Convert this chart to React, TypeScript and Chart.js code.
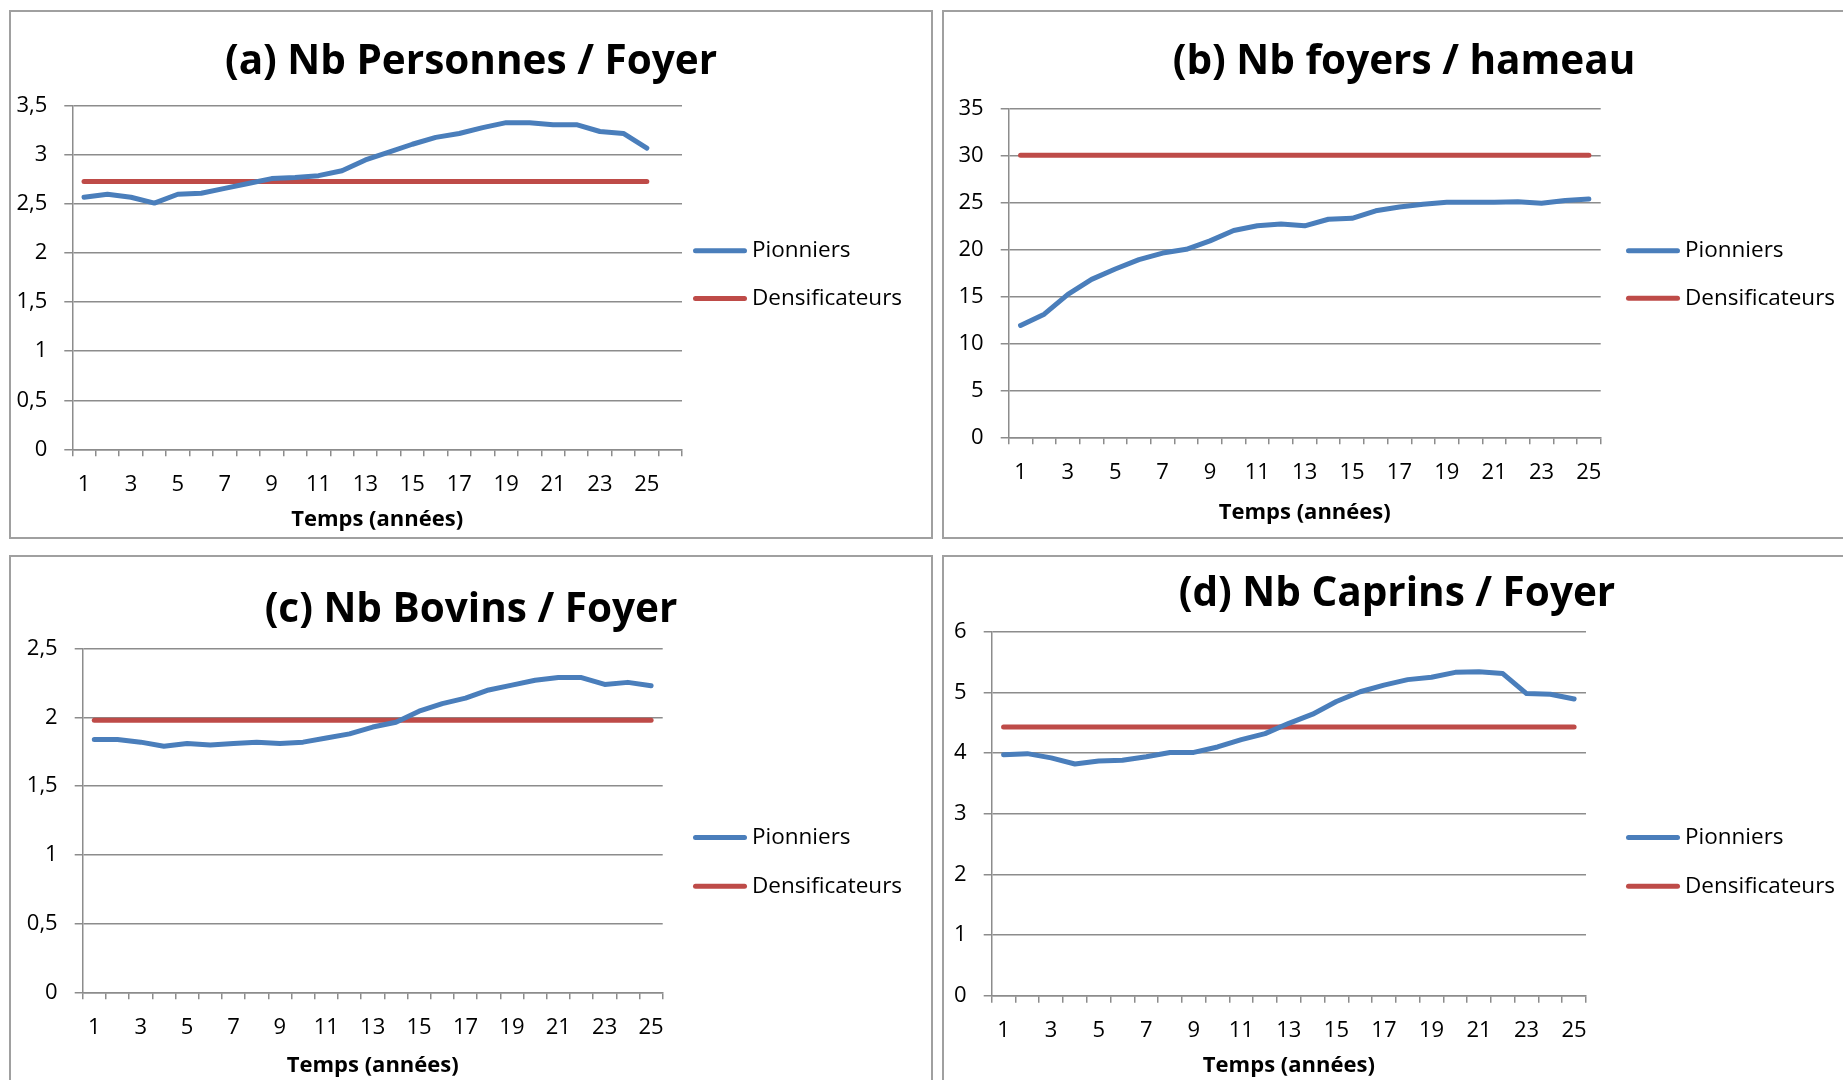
import React, { useEffect, useRef } from 'react';
import { Chart, registerables } from 'chart.js';

Chart.register(...registerables);

// ---------- DATA ----------
const yearsA = ['1', '2', '3', '4', '5', '6', '7', '8', '9', '10', '11', '12', '13', '14', '15', '16', '17', '18', '19', '20', '21', '22', '23', '24', '25', '26'];
const years = ['1', '2', '3', '4', '5', '6', '7', '8', '9', '10', '11', '12', '13', '14', '15', '16', '17', '18', '19', '20', '21', '22', '23', '24', '25'];

const seriesNames = ['Pionniers', 'Densificateurs'];

const pionniersA = [2.57, 2.6, 2.57, 2.51, 2.6, 2.61, 2.66, 2.71, 2.76, 2.77, 2.79, 2.84, 2.95, 3.03, 3.11, 3.18, 3.22, 3.28, 3.33, 3.33, 3.31, 3.31, 3.24, 3.22, 3.07];
const densifA = [2.73, 2.73, 2.73, 2.73, 2.73, 2.73, 2.73, 2.73, 2.73, 2.73, 2.73, 2.73, 2.73, 2.73, 2.73, 2.73, 2.73, 2.73, 2.73, 2.73, 2.73, 2.73, 2.73, 2.73, 2.73];

const pionniersB = [11.9, 13.1, 15.2, 16.8, 17.9, 18.9, 19.6, 20.0, 20.9, 22.0, 22.5, 22.7, 22.5, 23.2, 23.3, 24.1, 24.5, 24.8, 25.0, 25.0, 25.0, 25.05, 24.9, 25.2, 25.35];
const densifB = [30, 30, 30, 30, 30, 30, 30, 30, 30, 30, 30, 30, 30, 30, 30, 30, 30, 30, 30, 30, 30, 30, 30, 30, 30];

const pionniersC = [1.84, 1.84, 1.82, 1.79, 1.81, 1.8, 1.81, 1.82, 1.81, 1.82, 1.85, 1.88, 1.93, 1.965, 2.045, 2.1, 2.14, 2.2, 2.235, 2.27, 2.29, 2.29, 2.24, 2.255, 2.23];
const densifC = [1.98, 1.98, 1.98, 1.98, 1.98, 1.98, 1.98, 1.98, 1.98, 1.98, 1.98, 1.98, 1.98, 1.98, 1.98, 1.98, 1.98, 1.98, 1.98, 1.98, 1.98, 1.98, 1.98, 1.98, 1.98];

const pionniersD = [3.97, 3.99, 3.92, 3.82, 3.87, 3.88, 3.94, 4.01, 4.01, 4.1, 4.22, 4.32, 4.49, 4.64, 4.85, 5.01, 5.12, 5.21, 5.25, 5.33, 5.34, 5.31, 4.98, 4.97, 4.89];
const densifD = [4.43, 4.43, 4.43, 4.43, 4.43, 4.43, 4.43, 4.43, 4.43, 4.43, 4.43, 4.43, 4.43, 4.43, 4.43, 4.43, 4.43, 4.43, 4.43, 4.43, 4.43, 4.43, 4.43, 4.43, 4.43];

const titles = ['(a) Nb Personnes / Foyer', '(b) Nb foyers / hameau', '(c) Nb Bovins / Foyer', '(d) Nb Caprins / Foyer'];
const xTitle = 'Temps (années)';

const yMaxA = 3.5, yStepA = 0.5;
const yMaxB = 35, yStepB = 5;
const yMaxC = 2.5, yStepC = 0.5;
const yMaxD = 6, yStepD = 1;

// ---------- STYLE ----------
const FONT = '"Open Sans", sans-serif';
const BLUE = '#4A7EBB';
const RED = '#BE4B48';
const GRID = '#8c8c8c';
const CW = 920;
const CH = 525;

type PanelCfg = {
  left: number; top: number;
  title: string; labels: string[]; p: number[]; d: number[];
  yMax: number; yStep: number;
  yW: number; xH: number; rW: number; padR: number;
  tPadTop: number; tPadBottom: number; xtPad: number;
  legY: number; legGap: number;
};

const panels: PanelCfg[] = [
  { left: 9, top: 10, title: titles[0], labels: yearsA, p: pionniersA, d: densifA, yMax: yMaxA, yStep: yStepA,
    yW: 61.3, xH: 87.7, rW: 249, padR: 0, tPadTop: 26.3, tPadBottom: 19.1, xtPad: 4.2, legY: 238.7, legGap: 47.8 },
  { left: 942, top: 10, title: titles[1], labels: years, p: pionniersB, d: densifB, yMax: yMaxB, yStep: yStepB,
    yW: 64.7, xH: 99.7, rW: 263.3, padR: 0, tPadTop: 26.3, tPadBottom: 21.4, xtPad: 11.1, legY: 238.7, legGap: 47.6 },
  { left: 9, top: 555, title: titles[2], labels: years, p: pionniersC, d: densifC, yMax: yMaxC, yStep: yStepC,
    yW: 71.7, xH: 89.7, rW: 268.3, padR: 0, tPadTop: 28.7, tPadBottom: 14.4, xtPad: 3.3, legY: 280.5, legGap: 48.8 },
  { left: 942, top: 555, title: titles[3], labels: years, p: pionniersD, d: densifD, yMax: yMaxD, yStep: yStepD,
    yW: 47.7, xH: 86.3, rW: 264, padR: 14, tPadTop: 13.2, tPadBottom: 12.9, xtPad: 3.3, legY: 280.5, legGap: 48.8 },
];

const sideLegend = {
  id: 'sideLegend',
  afterDraw(chart: any, _args: any, opts: any) {
    const ctx = chart.ctx;
    ctx.save();
    chart.data.datasets.forEach((ds: any, i: number) => {
      const y = opts.y + i * opts.gap;
      ctx.strokeStyle = ds.borderColor;
      ctx.lineWidth = 5;
      ctx.lineCap = 'round';
      ctx.beginPath();
      ctx.moveTo(opts.x + 2.5, y);
      ctx.lineTo(opts.x + opts.len - 2.5, y);
      ctx.stroke();
      ctx.fillStyle = '#000';
      ctx.font = '22.5px ' + FONT;
      ctx.textAlign = 'left';
      ctx.textBaseline = 'middle';
      ctx.fillText(ds.label, opts.textX, y);
    });
    ctx.restore();
  },
};

function Panel({ cfg }: { cfg: PanelCfg }) {
  const ref = useRef<HTMLCanvasElement | null>(null);
  useEffect(() => {
    if (!ref.current) return;
    const chart = new Chart(ref.current, {
      type: 'line',
      data: {
        labels: cfg.labels,
        datasets: [
          { label: seriesNames[0], data: cfg.p, borderColor: BLUE, backgroundColor: BLUE, borderWidth: 5,
            pointRadius: 0, tension: 0, borderCapStyle: 'round', borderJoinStyle: 'round', xAxisID: 'x', yAxisID: 'y' },
          { label: seriesNames[1], data: cfg.d, borderColor: RED, backgroundColor: RED, borderWidth: 5,
            pointRadius: 0, tension: 0, borderCapStyle: 'round', borderJoinStyle: 'round', xAxisID: 'x', yAxisID: 'y' },
        ],
      } as any,
      options: {
        responsive: false,
        devicePixelRatio: 1,
        animation: false,
        layout: { padding: { left: 0, top: 0, bottom: 0, right: cfg.padR } },
        plugins: {
          legend: { display: false },
          tooltip: { enabled: false },
          title: {
            display: true,
            text: cfg.title,
            color: '#000',
            font: { family: FONT, size: 40.5, weight: 'bold', lineHeight: 1.2 },
            padding: { top: cfg.tPadTop, bottom: cfg.tPadBottom },
          },
          sideLegend: { x: 682, len: 54, textX: 741, y: cfg.legY, gap: cfg.legGap },
        } as any,
        scales: {
          x: {
            type: 'category',
            offset: true,
            grid: { drawOnChartArea: false, drawTicks: true, tickLength: 7, offset: true, color: GRID, lineWidth: 1.5 },
            border: { display: true, color: GRID, width: 1.5 },
            ticks: {
              autoSkip: false, maxRotation: 0, minRotation: 0, padding: 15, color: '#000',
              font: { family: FONT, size: 22 },
              callback: function (this: any, value: any, index: number) {
                return index % 2 === 0 ? this.getLabelForValue(value) : '';
              },
            },
            title: {
              display: true, text: xTitle, color: '#000',
              font: { family: FONT, size: 22, weight: 'bold', lineHeight: 1.2 },
              padding: { top: 0, bottom: cfg.xtPad },
            },
            afterFit: (s: any) => { s.height = cfg.xH; },
          },
          y: {
            type: 'linear',
            position: 'left',
            min: 0,
            max: cfg.yMax,
            grid: { drawTicks: true, tickLength: 8, color: GRID, lineWidth: 1.5 },
            border: { display: true, color: GRID, width: 1.5 },
            ticks: {
              stepSize: cfg.yStep, padding: 17, color: '#000',
              font: { family: FONT, size: 22 },
              callback: (v: any) => String(v).replace('.', ','),
            },
            afterFit: (s: any) => { s.width = cfg.yW; },
          },
          yR: {
            type: 'linear',
            position: 'right',
            display: true,
            grid: { display: false },
            border: { display: false },
            ticks: { display: false },
            afterFit: (s: any) => { s.width = cfg.rW; },
          },
        } as any,
      },
      plugins: [sideLegend as any],
    });
    return () => chart.destroy();
  }, [cfg]);

  return (
    <div
      style={{
        position: 'absolute', left: cfg.left, top: cfg.top, width: 924, height: 529,
        border: '2px solid #a0a0a0', boxSizing: 'border-box', background: '#fff',
      }}
    >
      <canvas ref={ref} width={CW} height={CH} style={{ display: 'block', width: CW, height: CH }} />
    </div>
  );
}

export default function App() {
  return (
    <div style={{ position: 'fixed', left: 0, top: 0, width: 1843, height: 1080, overflow: 'hidden', background: '#fff' }}>
      {panels.map((p, i) => (
        <Panel key={i} cfg={p} />
      ))}
    </div>
  );
}
